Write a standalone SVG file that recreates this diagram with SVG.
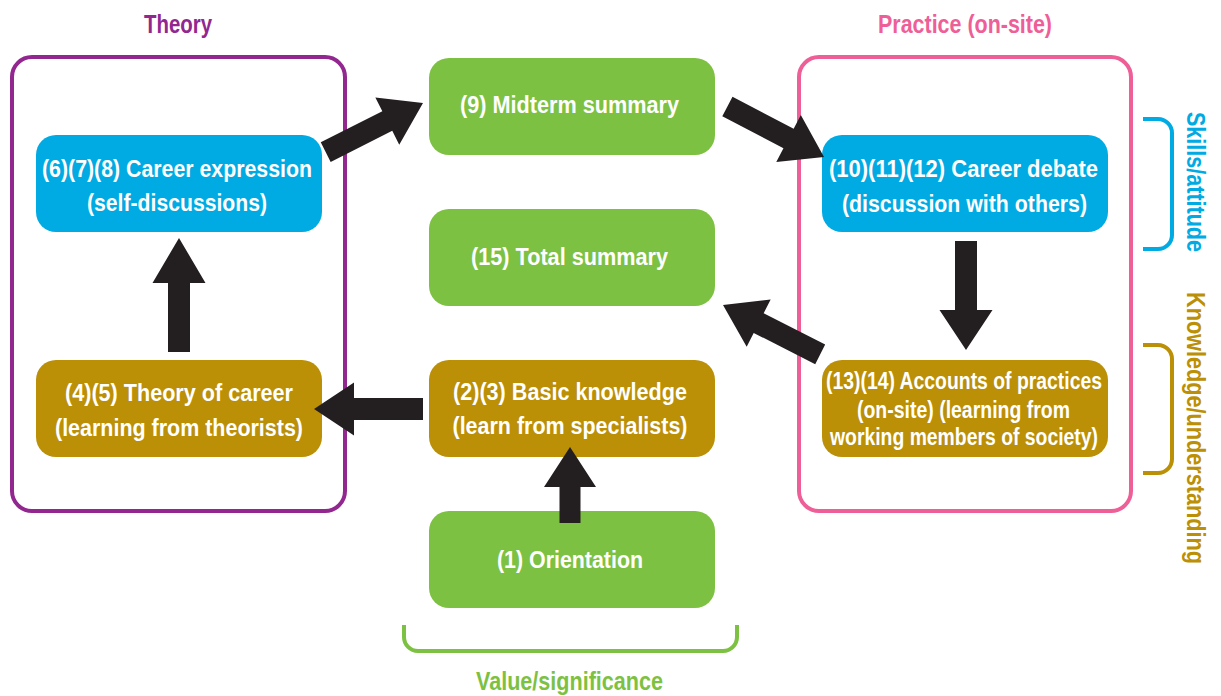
<svg xmlns="http://www.w3.org/2000/svg" width="1221" height="696" viewBox="0 0 1221 696">
<style>
text{font-family:"Liberation Sans",Arial,sans-serif;font-weight:bold;text-anchor:middle}
.nt{fill:#ffffff;font-size:23.5px}
.lbl{font-size:25px}
.green{fill:#7dc142}
.blue{fill:#00aae3}
.gold{fill:#bb8f06}
.frame{fill:none;stroke-width:4}
.brk{fill:none;stroke-width:4}
.arr{fill:#231f20}
</style>
<defs>
<polygon id="a109" points="-109,-11 -40,-11 -40,-26.5 0,0 -40,26.5 -40,11 -109,11"/>
<polygon id="a76" points="-76,-10.5 -40,-10.5 -40,-26 0,0 -40,26 -40,10.5 -76,10.5"/>
<polygon id="a114" points="-114,-11 -45,-11 -45,-26.5 0,0 -45,26.5 -45,11 -114,11"/>
</defs>

<g id="theory-frame">
<rect class="frame" x="12" y="57" width="333" height="454" rx="20" stroke="#92278f"/>
<text class="lbl" x="178" y="33" fill="#92278f" textLength="68" lengthAdjust="spacingAndGlyphs">Theory</text>
</g>
<g id="practice-frame">
<rect class="frame" x="799" y="57" width="332" height="454" rx="20" stroke="#ee5e97"/>
<text class="lbl" x="965" y="33" fill="#ee5e97" textLength="174" lengthAdjust="spacingAndGlyphs">Practice (on-site)</text>
</g>

<g id="n678">
<rect class="blue" x="36" y="135" width="286" height="97" rx="20"/>
<text class="nt" x="177" y="177" textLength="270" lengthAdjust="spacingAndGlyphs">(6)(7)(8) Career expression</text>
<text class="nt" x="177" y="211" textLength="180" lengthAdjust="spacingAndGlyphs">(self-discussions)</text>
</g>
<g id="n9">
<rect class="green" x="429" y="58" width="286" height="97" rx="20"/>
<text class="nt" x="569.5" y="113" textLength="219" lengthAdjust="spacingAndGlyphs">(9) Midterm summary</text>
</g>
<g id="n15">
<rect class="green" x="429" y="209" width="286" height="97" rx="20"/>
<text class="nt" x="569.5" y="265" textLength="197" lengthAdjust="spacingAndGlyphs">(15) Total summary</text>
</g>
<g id="n45">
<rect class="gold" x="36" y="360" width="286" height="97" rx="20"/>
<text class="nt" x="179" y="401" textLength="228" lengthAdjust="spacingAndGlyphs">(4)(5) Theory of career</text>
<text class="nt" x="179" y="436" textLength="248" lengthAdjust="spacingAndGlyphs">(learning from theorists)</text>
</g>
<g id="n23">
<rect class="gold" x="429" y="360" width="286" height="97" rx="20"/>
<text class="nt" x="570" y="400" textLength="234" lengthAdjust="spacingAndGlyphs">(2)(3) Basic knowledge</text>
<text class="nt" x="570" y="434" textLength="235" lengthAdjust="spacingAndGlyphs">(learn from specialists)</text>
</g>
<g id="n1">
<rect class="green" x="429" y="511" width="286" height="97" rx="20"/>
<text class="nt" x="570" y="568" textLength="146" lengthAdjust="spacingAndGlyphs">(1) Orientation</text>
</g>
<g id="n101112">
<rect class="blue" x="822" y="135" width="286" height="97" rx="20"/>
<text class="nt" x="963.5" y="177" textLength="269" lengthAdjust="spacingAndGlyphs">(10)(11)(12) Career debate</text>
<text class="nt" x="964.5" y="212" textLength="245" lengthAdjust="spacingAndGlyphs">(discussion with others)</text>
</g>
<g id="n1314">
<rect class="gold" x="822" y="360" width="286" height="97" rx="20"/>
<text class="nt" x="964" y="389" textLength="276" lengthAdjust="spacingAndGlyphs">(13)(14) Accounts of practices</text>
<text class="nt" x="963.5" y="418" textLength="213" lengthAdjust="spacingAndGlyphs">(on-site) (learning from</text>
<text class="nt" x="964" y="445" textLength="268" lengthAdjust="spacingAndGlyphs">working members of society)</text>
</g>

<g id="bracket-skills">
<path class="brk" stroke="#00aae3" d="M1143,119 H1158 A14,14 0 0 1 1172,133 V235 A14,14 0 0 1 1158,249 H1143"/>
<text class="lbl" fill="#00aae3" transform="translate(1187,182) rotate(90)" textLength="140" lengthAdjust="spacingAndGlyphs" x="0" y="0">Skills/attitude</text>
</g>
<g id="bracket-knowledge">
<path class="brk" stroke="#bb8f06" d="M1143,345 H1158 A14,14 0 0 1 1172,359 V459 A14,14 0 0 1 1158,473 H1143"/>
<text class="lbl" fill="#bb8f06" transform="translate(1187,428) rotate(90)" textLength="272" lengthAdjust="spacingAndGlyphs" x="0" y="0">Knowledge/understanding</text>
</g>
<g id="bracket-value">
<path class="brk" stroke="#7dc142" d="M404,625 V637 A14,14 0 0 0 418,651 H723 A14,14 0 0 0 737,637 V625"/>
<text class="lbl" fill="#7dc142" x="569.5" y="690" textLength="187" lengthAdjust="spacingAndGlyphs">Value/significance</text>
</g>

<g id="connectors" class="arr">
<use href="#a109" transform="translate(423,103) rotate(-26.8)"/>
<use href="#a109" transform="translate(824,157) rotate(27.6)"/>
<use href="#a109" transform="translate(966,350) rotate(90)"/>
<use href="#a109" transform="translate(723,305) rotate(-153.1)"/>
<use href="#a109" transform="translate(314,409) rotate(180)"/>
<use href="#a76" transform="translate(570,447) rotate(-90)"/>
<use href="#a114" transform="translate(179,238) rotate(-90)"/>
</g>
</svg>
